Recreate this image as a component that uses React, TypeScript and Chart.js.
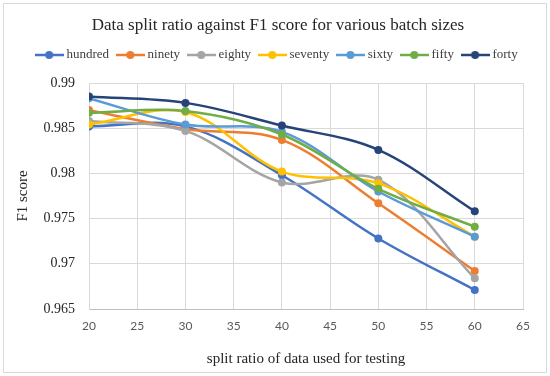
import React, { useEffect, useRef } from 'react';
import { Chart, registerables } from 'chart.js';

Chart.register(...registerables);

const chartTitle = 'Data split ratio against F1 score for various batch sizes';
const xTitle = 'split ratio of data used for testing';
const yTitle = 'F1 score';

const splitRatios = [20, 30, 40, 50, 60];
const seriesNames = ['hundred', 'ninety', 'eighty', 'seventy', 'sixty', 'fifty', 'forty'];

const hundred = [0.9852, 0.9852, 0.9798, 0.9728, 0.9671];
const ninety = [0.9870, 0.9849, 0.9837, 0.9767, 0.9692];
const eighty = [0.9858, 0.9847, 0.9790, 0.9793, 0.9684];
const seventy = [0.9854, 0.9868, 0.9802, 0.9789, 0.9730];
const sixty = [0.9883, 0.9854, 0.9846, 0.9780, 0.9730];
const fifty = [0.9867, 0.9869, 0.9843, 0.9783, 0.9741];
const forty = [0.9885, 0.9878, 0.9853, 0.9826, 0.9758];

const seriesValues = [hundred, ninety, eighty, seventy, sixty, fifty, forty];
const seriesColors = ['#4472C4', '#ED7D31', '#A5A5A5', '#FFC000', '#5B9BD5', '#70AD47', '#264478'];

const xTicks = [20, 25, 30, 35, 40, 45, 50, 55, 60, 65];
const yTicks = [0.965, 0.97, 0.975, 0.98, 0.985, 0.99];
const yTickLabels = ['0.965', '0.97', '0.975', '0.98', '0.985', '0.99'];

const SERIF = "'Liberation Serif', 'Times New Roman', serif";
const SANS = "Lato, 'Open Sans', sans-serif";

function legendIcon(color: string): HTMLCanvasElement {
  const c = document.createElement('canvas');
  c.width = 29;
  c.height = 10;
  const g = c.getContext('2d')!;
  g.strokeStyle = color;
  g.lineWidth = 2.5;
  g.beginPath();
  g.moveTo(0, 5);
  g.lineTo(29, 5);
  g.stroke();
  g.fillStyle = color;
  g.beginPath();
  g.arc(14.5, 5, 4, 0, Math.PI * 2);
  g.fill();
  return c;
}

const framePlugin = {
  id: 'frame',
  beforeDraw(chart: any) {
    const ctx = chart.ctx;
    ctx.save();
    ctx.fillStyle = '#ffffff';
    ctx.fillRect(0, 0, chart.width, chart.height);
    ctx.strokeStyle = '#d9d9d9';
    ctx.lineWidth = 1;
    ctx.strokeRect(3.5, 3.5, 543, 369);
    ctx.restore();
  },
};

export default function App() {
  const ref = useRef<HTMLCanvasElement | null>(null);

  useEffect(() => {
    if (!ref.current) return;
    const icons = seriesColors.map((c) => legendIcon(c));
    const datasets = seriesNames.map((name, i) => ({
      label: name,
      data: splitRatios.map((x, j) => ({ x, y: seriesValues[i][j] })),
      borderColor: seriesColors[i],
      backgroundColor: seriesColors[i],
      pointBackgroundColor: seriesColors[i],
      pointBorderColor: seriesColors[i],
      pointBorderWidth: 0,
      pointRadius: 4,
      borderWidth: 2.5,
      tension: 0.35,
      fill: false,
      xAxisID: 'x',
      yAxisID: 'y',
      order: seriesNames.length - i,
    }));

    const chart = new Chart(ref.current, {
      type: 'line',
      data: { datasets },
      plugins: [framePlugin],
      options: {
        animation: false,
        responsive: false,
        devicePixelRatio: 1,
        layout: { padding: { left: 6, right: 0, top: 6, bottom: 8 } },
        plugins: {
          title: {
            display: true,
            text: chartTitle,
            color: '#262626',
            font: { family: SERIF, size: 17, weight: 'normal' },
            padding: { top: 9.4, bottom: 2.3 },
          },
          legend: {
            display: true,
            labels: {
              usePointStyle: true,
              pointStyleWidth: 21.6,
              boxHeight: 10,
              padding: 10.4,
              color: '#404040',
              font: { family: SERIF, size: 13 },
              generateLabels: (c: any) =>
                c.data.datasets.map((ds: any, i: number) => ({
                  text: ds.label,
                  pointStyle: icons[i],
                  fillStyle: seriesColors[i],
                  strokeStyle: seriesColors[i],
                  lineWidth: 0,
                  hidden: false,
                  datasetIndex: i,
                  fontColor: '#404040',
                })),
            },
          },
          tooltip: { enabled: false },
        },
        scales: {
          x: {
            type: 'linear',
            position: 'bottom',
            min: 20,
            max: 65,
            afterBuildTicks: (s: any) => {
              s.ticks = xTicks.map((v) => ({ value: v }));
            },
            afterFit: (s: any) => {
              s.height = 59;
            },
            ticks: {
              color: '#595959',
              font: { family: SANS, size: 12 },
              padding: 10,
              callback: (v: any) => String(v),
            },
            grid: { color: '#d9d9d9', lineWidth: 1, drawTicks: false },
            border: { color: '#bfbfbf', width: 1 },
            title: {
              display: true,
              text: xTitle,
              color: '#262626',
              font: { family: SERIF, size: 15 },
              padding: { top: 0, bottom: 0 },
            },
          },
          xSpacer: {
            type: 'linear',
            position: 'top',
            display: true,
            min: 0,
            max: 1,
            ticks: { display: false },
            grid: { display: false, drawTicks: false },
            border: { display: false },
            afterFit: (s: any) => {
              s.height = 11.5;
            },
          },
          y: {
            type: 'linear',
            position: 'left',
            min: 0.965,
            max: 0.99,
            afterBuildTicks: (s: any) => {
              s.ticks = yTicks.map((v) => ({ value: v }));
            },
            afterFit: (s: any) => {
              s.width = 83;
            },
            ticks: {
              color: '#262626',
              font: { family: SERIF, size: 14 },
              padding: 14,
              callback: (v: any) => {
                const idx = yTicks.findIndex((t) => Math.abs(t - v) < 1e-9);
                return idx >= 0 ? yTickLabels[idx] : '';
              },
            },
            grid: { color: '#d9d9d9', lineWidth: 1, drawTicks: false },
            border: { color: '#d9d9d9', width: 1 },
            title: {
              display: true,
              text: yTitle,
              color: '#262626',
              font: { family: SERIF, size: 15 },
              padding: { top: 8, bottom: 0 },
            },
          },
          ySpacer: {
            type: 'linear',
            position: 'right',
            display: true,
            min: 0,
            max: 1,
            ticks: { display: false },
            grid: { display: false, drawTicks: false },
            border: { display: false },
            afterFit: (s: any) => {
              s.width = 27;
            },
          },
        },
      } as any,
    });
    return () => chart.destroy();
  }, []);

  return (
    <div style={{ position: 'absolute', left: 0, top: 0, width: 550, height: 376 }}>
      <canvas ref={ref} width={550} height={376} style={{ width: 550, height: 376 }} />
    </div>
  );
}
